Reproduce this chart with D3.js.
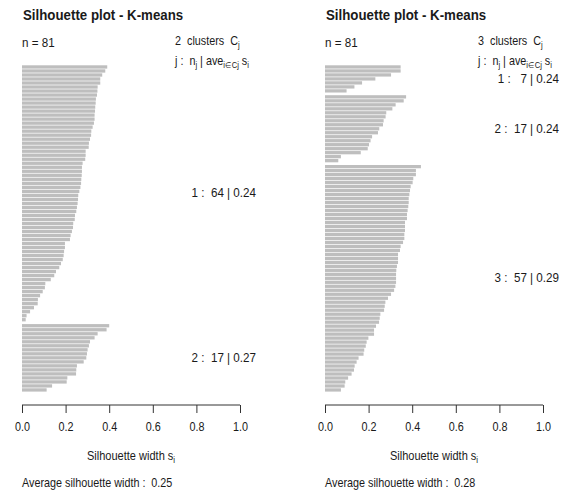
<!DOCTYPE html>
<html>
<head>
<meta charset="utf-8">
<script src="https://cdn.jsdelivr.net/npm/d3@7"></script>
<style>
  body { margin: 0; background: #fff; }
  svg { display: block; }
  text { font-family: 'Liberation Sans', Arial, sans-serif; fill: #1a1a1a; white-space: pre; }
  .ttl { font-weight: bold; font-size: 14px; }
</style>
</head>
<body>
<div id="chart"></div>
<script>
// silhouette widths, sorted within each cluster
var k2Cluster1 = [0.391, 0.382, 0.368, 0.359, 0.359, 0.347, 0.346, 0.344, 0.339, 0.338, 0.336, 0.335,
  0.333, 0.333, 0.330, 0.324, 0.318, 0.317, 0.312, 0.307, 0.306, 0.292, 0.292, 0.290, 0.278, 0.275,
  0.275, 0.274, 0.272, 0.271, 0.268, 0.263, 0.258, 0.257, 0.255, 0.252, 0.249, 0.243, 0.242, 0.235,
  0.234, 0.229, 0.223, 0.220, 0.197, 0.197, 0.193, 0.191, 0.187, 0.179, 0.171, 0.156, 0.148, 0.132,
  0.107, 0.105, 0.095, 0.083, 0.073, 0.072, 0.055, 0.037, 0.021, 0.017];
var k2Cluster2 = [0.400, 0.388, 0.347, 0.333, 0.312, 0.307, 0.301, 0.298, 0.295, 0.283, 0.252, 0.249,
  0.248, 0.208, 0.205, 0.138, 0.113];

var k3Cluster1 = [0.347, 0.347, 0.303, 0.231, 0.170, 0.135, 0.099];
var k3Cluster2 = [0.372, 0.361, 0.324, 0.309, 0.281, 0.278, 0.269, 0.266, 0.249, 0.243, 0.216, 0.209,
  0.202, 0.196, 0.164, 0.073, 0.061];
var k3Cluster3 = [0.440, 0.417, 0.417, 0.405, 0.402, 0.393, 0.390, 0.387, 0.384, 0.384, 0.382, 0.379,
  0.376, 0.376, 0.367, 0.367, 0.367, 0.364, 0.364, 0.358, 0.347, 0.344, 0.335, 0.335, 0.335, 0.330,
  0.327, 0.326, 0.326, 0.326, 0.323, 0.317, 0.303, 0.289, 0.277, 0.274, 0.271, 0.254, 0.251, 0.248,
  0.234, 0.225, 0.225, 0.199, 0.191, 0.187, 0.180, 0.177, 0.154, 0.145, 0.136, 0.133, 0.122, 0.106,
  0.093, 0.090, 0.073];

var k2Averages = ["0.24", "0.27"];
var k3Averages = ["0.24", "0.24", "0.29"];
var overallAverages = ["0.25", "0.28"];
var xTicks = [0, 0.2, 0.4, 0.6, 0.8, 1.0];
var titleText = "Silhouette plot - K-means";
var nText = "n = 81";

var width = 566, height = 500;
var svg = d3.select("#chart").append("svg")
  .attr("width", width).attr("height", height);

// text in its own group, squeezed a little sideways like the reference font
function label(g, x, y, sx, anchor) {
  return g.append("g")
    .attr("transform", "translate(" + x + "," + y + ") scale(" + sx + ",1)")
    .append("text")
    .attr("text-anchor", anchor || "start")
    .attr("font-size", "12px");
}

function sub(t, s) {
  t.append("tspan").attr("font-size", "8.5px").attr("dy", 3).text(s);
}

function drawPanel(left, clusters, averages, overall) {
  var g = svg.append("g").attr("transform", "translate(" + left + ",0)");
  var gap = 0.5;

  // one unit per observation, half a unit between clusters
  var rows = [], mids = [], pos = 0;
  clusters.forEach(function(vals, ci) {
    if (ci > 0) pos += gap;
    var start = pos;
    vals.forEach(function(v) { rows.push({ v: v, p: pos }); pos += 1; });
    mids.push((start + pos) / 2);
  });

  var x = d3.scaleLinear().domain([0, 1]).range([22, 240]);
  var y = d3.scaleLinear().domain([0, pos]).range([65, 392]);
  var bh = y(1) - y(0);

  g.selectAll(".bar").data(rows).enter().append("rect")
    .attr("class", "bar")
    .attr("x", x(0))
    .attr("y", function(d) { return y(d.p) + 0.3; })
    .attr("width", function(d) { return x(d.v) - x(0); })
    .attr("height", bh - 0.7)
    .attr("fill", "#bebebe");

  var axis = g.append("g").attr("transform", "translate(0,405)")
    .call(d3.axisBottom(x).tickValues(xTicks).tickFormat(d3.format(".1f")).tickSize(8).tickPadding(9));
  axis.select(".domain").attr("stroke", "#333").attr("d", "M" + x(0) + ",0H" + x(1));
  axis.selectAll(".tick line").attr("stroke", "#333");
  axis.selectAll(".tick text")
    .attr("font-size", "12px")
    .attr("fill", "#1a1a1a")
    .attr("transform", "scale(0.9,1)")
    .style("font-family", "'Liberation Sans', Arial, sans-serif");

  label(g, 23, 20, 0.95).attr("class", "ttl").text(titleText);
  label(g, 22, 47, 0.97).text(nText);

  var hx = 175;
  var h1 = label(g, hx, 45, 0.9);
  h1.append("tspan").text(clusters.length + "  clusters  C");
  sub(h1, "j");

  var h2 = label(g, hx, 65, 0.9);
  h2.append("tspan").text("j :  n");
  sub(h2, "j");
  h2.append("tspan").attr("dy", -3).text(" | ave");
  sub(h2, "i\u2208Cj");
  h2.append("tspan").attr("dy", -3).text(" s");
  sub(h2, "i");

  clusters.forEach(function(vals, i) {
    var n = String(vals.length);
    if (n.length < 2) n = " " + n;
    label(g, 256, y(mids[i]) + 4, 0.97, "end")
      .text((i + 1) + " :  " + n + " | " + averages[i]);
  });

  var xl = label(g, (x(0) + x(1)) / 2, 460, 0.92, "middle");
  xl.append("tspan").text("Silhouette width s");
  sub(xl, "i");

  label(g, 22, 487, 0.9).text("Average silhouette width :  " + overall);
}

drawPanel(0, [k2Cluster1, k2Cluster2], k2Averages, overallAverages[0]);
drawPanel(303, [k3Cluster1, k3Cluster2, k3Cluster3], k3Averages, overallAverages[1]);
</script>
</body>
</html>
